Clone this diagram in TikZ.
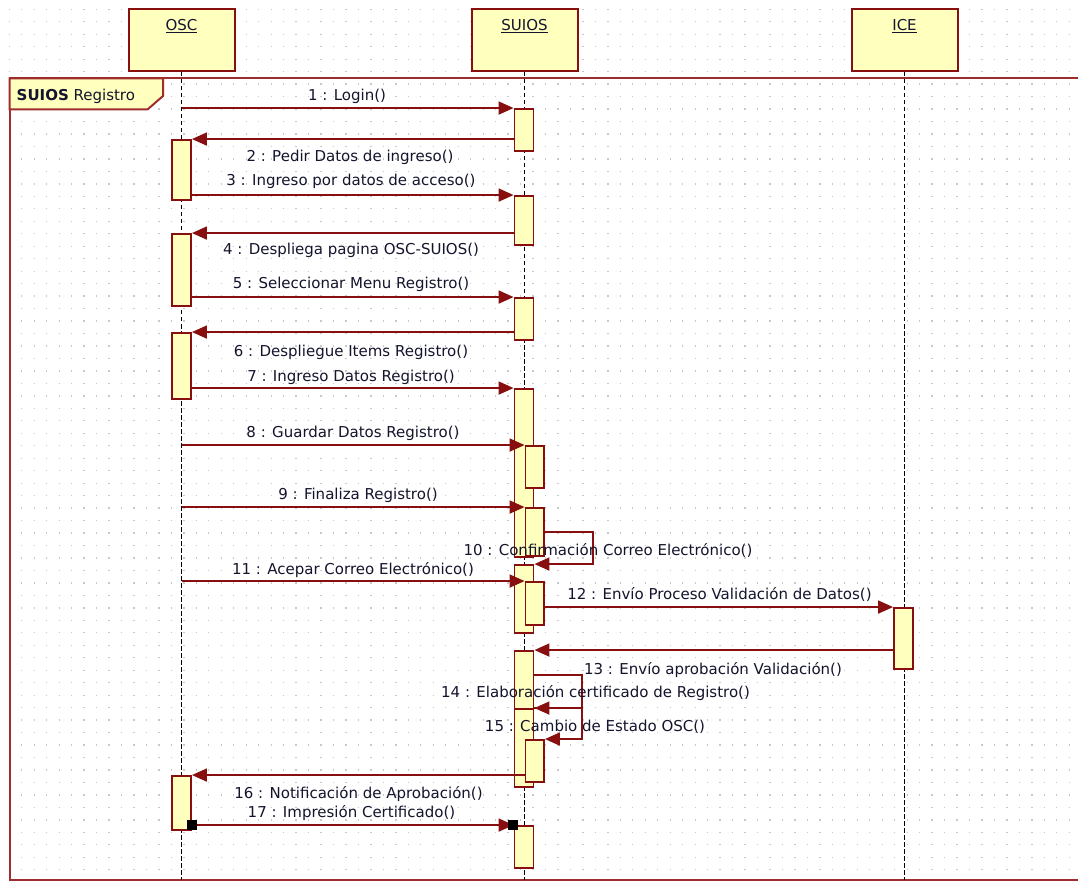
\documentclass[tikz,border=0pt]{standalone}
\usepackage{fontspec}
\setmainfont{DejaVu Sans}
\usetikzlibrary{arrows.meta,fit}
\definecolor{umlred}{RGB}{135,15,15}
\definecolor{framered}{RGB}{160,45,45}
\definecolor{boxfill}{RGB}{255,255,190}
\definecolor{griddot}{RGB}{200,200,200}
\definecolor{txt}{RGB}{20,20,45}

\begin{document}
\begin{tikzpicture}[x=1pt,y=-1pt,
  head/.style={draw=umlred, line width=2pt, fill=boxfill, inner sep=0pt},
  act/.style={draw=umlred, line width=1.9pt, fill=boxfill, inner sep=0pt},
  life/.style={draw=black, line width=1.8pt, dash pattern=on 4.5pt off 2.5pt},
  msg/.style={draw=umlred, line width=1.8pt, -{Triangle[length=15pt,width=13pt]}},
  endsq/.style={fill=black, minimum size=9.5pt, inner sep=0pt},
  lbl/.style={font=\fontsize{15}{18}\selectfont, text=txt, inner sep=0pt, anchor=base},
  ]
% canvas
\fill[white] (0,0) rectangle (1078,882);
\useasboundingbox (0,0) rectangle (1078,882);
\clip (0,0) rectangle (1078,882);

% dotted grid
\foreach \r in {0,...,70} {
  \draw[griddot, line width=1.3pt, dash pattern=on 1.3pt off 11.17pt]
    (8.65,{9.3+12.47*\r}) -- (1078,{9.3+12.47*\r});
}

% interaction frame
\draw[framered, line width=2pt] (9.5,78.5) rectangle (1090,880);
\draw[framered, line width=2pt, fill=boxfill]
  (9.5,78.5) -- (163,78.5) -- (163,96) -- (147.5,109.5) -- (9.5,109.5) -- cycle;
\node[lbl, anchor=base west] (frametitle) at (16.5,100.7) {\textbf{SUIOS} Registro};

% lifeline heads
\node[head, minimum width=106pt, minimum height=62pt] (osc) at (181.5,40) {};
\node[head, minimum width=106pt, minimum height=62pt] (suios) at (524.5,40) {};
\node[head, minimum width=106pt, minimum height=62pt] (ice) at (904.5,40) {};
\node[lbl] (osclbl) at (181.5,30.7) {\underline{OSC}};
\node[lbl] (suioslbl) at (524.5,30.7) {\underline{SUIOS}};
\node[lbl] (icelbl) at (904.5,30.7) {\underline{ICE}};

% lifelines
\coordinate (oscend) at (181.5,880);
\coordinate (suiosend) at (524.5,880);
\coordinate (iceend) at (904.5,880);
\draw[life] (osc.south) -- (oscend);
\draw[life] (suios.south) -- (suiosend);
\draw[life] (ice.south) -- (iceend);

% activations: OSC
\node[act, fit={(172,140) (191,200)}] (o1) {};
\node[act, fit={(172,234) (191,306)}] (o2) {};
\node[act, fit={(172,333) (191,399)}] (o3) {};
\node[act, fit={(172,776) (191,830)}] (o4) {};
% activations: SUIOS
\node[act, fit={(514.5,109) (533.5,151)}] (s1) {};
\node[act, fit={(514.5,196) (533.5,245)}] (s2) {};
\node[act, fit={(514.5,298) (533.5,340)}] (s3) {};
\node[act, fit={(514.5,389) (533.5,557)}] (s4) {};
\node[act, fit={(525.5,446) (544,488)}] (s4a) {};
\node[act, fit={(525.5,508) (544,556)}] (s4b) {};
\node[act, fit={(514.5,565) (533.5,633)}] (s5) {};
\node[act, fit={(525.5,582) (544,625)}] (s5a) {};
\node[act, fit={(514.5,651) (533.5,712)}] (s6) {};
\node[act, fit={(514.5,709) (533.5,787)}] (s7) {};
\node[act, fit={(525.5,740) (544,782)}] (s7a) {};
\node[act, fit={(514.5,826) (533.5,868)}] (s8) {};
% activations: ICE
\node[act, fit={(894,608) (913,669)}] (i1) {};

% messages
\draw[msg] (osc.south |- s1.north) -- (s1.north west);
\draw[msg] (s1.west |- o1.north) -- (o1.north east);
\draw[msg] (o1.east |- s2.north) -- (s2.north west);
\draw[msg] (s2.west |- o2.north) -- (o2.north east);
\draw[msg] (o2.east |- s3.north) -- (s3.north west);
\draw[msg] (s3.west |- o3.north) -- (o3.north east);
\draw[msg] (o3.east |- s4.north) -- (s4.north west);
\draw[msg] (osc.south |- s4a.north) -- (s4a.north west);
\draw[msg] (osc.south |- s4b.north) -- (s4b.north west);
\draw[msg] (s4b.east) -- ++(48,0) |- (s5.north east);
\draw[msg] (osc.south |- s5a.north) -- (s5a.north west);
\draw[msg] (s5a.east |- i1.north) -- (i1.north west);
\draw[msg] (i1.west |- s6.north) -- (s6.north east);
\draw[msg] ([yshift=-25pt]s6.north east) -- ++(47.5,0) |- (s7.north east);
\draw[msg] (s7.north east) -- ++(47.5,0) |- (s7a.north east);
\draw[msg] (s7a.west |- o4.north) -- (o4.north east);
\draw[msg] (o4.east |- s8.north) -- (s8.north west);
\node[endsq] (sqa) at (o4.east |- s8.north) {};
\node[endsq] (sqb) at ([xshift=-0.8pt]s8.north west) {};

% message labels
\node[lbl] (l1) at (347,100.5) {1 : Login()};
\node[lbl] (l2) at (350,161.7) {2 : Pedir Datos de ingreso()};
\node[lbl] (l3) at (351,185.5) {3 : Ingreso por datos de acceso()};
\node[lbl] (l4) at (351,255) {4 : Despliega pagina OSC-SUIOS()};
\node[lbl] (l5) at (351,289) {5 : Seleccionar Menu Registro()};
\node[lbl] (l6) at (351,356) {6 : Despliegue Items Registro()};
\node[lbl] (l7) at (351,381) {7 : Ingreso Datos Registro()};
\node[lbl] (l8) at (353,437) {8 : Guardar Datos Registro()};
\node[lbl] (l9) at (358,499) {9 : Finaliza Registro()};
\node[lbl] (l10) at (608,555) {10 : Confirmación Correo Electrónico()};
\node[lbl] (l11) at (353,574) {11 : Acepar Correo Electrónico()};
\node[lbl] (l12) at (719.5,599) {12 : Envío Proceso Validación de Datos()};
\node[lbl] (l13) at (713,674) {13 : Envío aprobación Validación()};
\node[lbl] (l14) at (595.5,697) {14 : Elaboración certificado de Registro()};
\node[lbl] (l15) at (595,731.5) {15 : Cambio de Estado OSC()};
\node[lbl] (l16) at (358.5,798.3) {16 : Notificación de Aprobación()};
\node[lbl] (l17) at (351.5,817.3) {17 : Impresión Certificado()};
\end{tikzpicture}
\end{document}
